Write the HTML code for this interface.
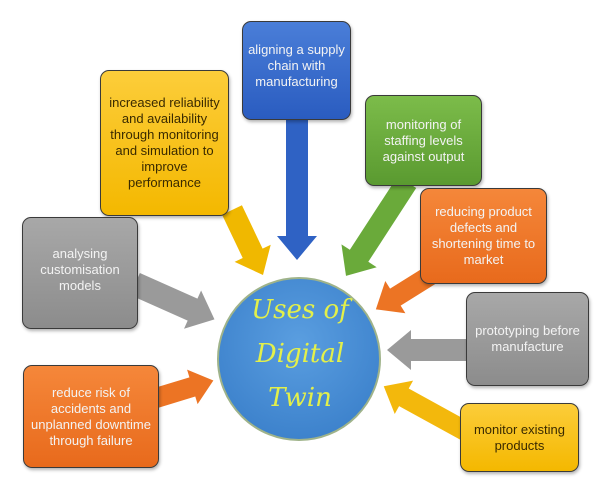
<!DOCTYPE html>
<html><head><style>
html,body{margin:0;padding:0;background:#fff;width:600px;height:500px;overflow:hidden}
.b{position:absolute;border:1.5px solid #3a3a3a;border-radius:9px;display:flex;align-items:center;justify-content:center;text-align:center;font-family:"Liberation Sans",sans-serif;font-size:13px;line-height:16px;box-sizing:border-box;padding:6px;box-shadow:1px 2px 3px rgba(0,0,0,.3);font-weight:500}
.w{color:#f3f3f3}.d{color:#3a2a00}
</style></head><body>
<svg width="600" height="500" style="position:absolute;left:0;top:0">
<defs>
<radialGradient id="cg" cx="50%" cy="40%" r="60%"><stop offset="0" stop-color="#5a9ee0"/><stop offset="1" stop-color="#3d82cc"/></radialGradient>
</defs>
<g transform="translate(232,210) rotate(64.5)"><polygon points="0,-11 48,-11 48,-20 72,0 48,20 48,11 0,11" fill="#f0b800"/></g>
<g transform="translate(297,118) rotate(90)"><polygon points="0,-11 118,-11 118,-20 142,0 118,20 118,11 0,11" fill="#2f62c4"/></g>
<g transform="translate(407,182) rotate(123)"><polygon points="0,-11 88,-11 88,-21 112,0 88,21 88,11 0,11" fill="#6aaa3a"/></g>
<g transform="translate(442,268) rotate(148)"><polygon points="0,-10 55,-10 55,-19 78,0 55,19 55,10 0,10" fill="#ec7424"/></g>
<g transform="translate(467,350) rotate(180)"><polygon points="0,-11 56,-11 56,-20 80,0 56,20 56,11 0,11" fill="#9a9a9a"/></g>
<g transform="translate(467,432) rotate(208.8)"><polygon points="0,-10 72,-10 72,-19 95,0 72,19 72,10 0,10" fill="#f3b80c"/></g>
<g transform="translate(135,284) rotate(24)"><polygon points="0,-12 63,-12 63,-21 87,0 63,21 63,12 0,12" fill="#9a9a9a"/></g>
<g transform="translate(156,398) rotate(-17)"><polygon points="0,-10 38,-10 38,-18 60,0 38,18 38,10 0,10" fill="#ec7424"/></g>
<circle cx="299" cy="359" r="81" fill="url(#cg)" stroke="#9fb38a" stroke-width="2"/>
<text font-family="'DejaVu Serif',serif" font-style="italic" font-size="26" fill="#e3f04a" text-anchor="middle"><tspan x="300" y="318">Uses of</tspan><tspan x="300" y="362">Digital</tspan><tspan x="300" y="406">Twin</tspan></text>
</svg>
<div class="b d" style="left:100px;top:70px;width:129px;height:146px;background:linear-gradient(#fccd3a,#f4b800);padding:4px"><span style="display:block;width:122px">increased reliability and availability through monitoring and simulation to<br>improve<br>performance</span></div>
<div class="b w" style="left:242px;top:21px;width:109px;height:99px;background:linear-gradient(#4a7ed8,#2a5cc0);align-items:flex-start;padding:20px 2px 2px">aligning a supply chain with manufacturing</div>
<div class="b w" style="left:365px;top:95px;width:117px;height:91px;background:linear-gradient(#7cbc4a,#5a9a30)">monitoring of staffing levels against output</div>
<div class="b w" style="left:420px;top:188px;width:127px;height:96px;background:linear-gradient(#f5873a,#e86a1c)">reducing product defects and shortening time to market</div>
<div class="b w" style="left:22px;top:217px;width:116px;height:112px;background:linear-gradient(#a8a8a8,#8c8c8c);align-items:flex-start;padding-top:28px">analysing customisation models</div>
<div class="b w" style="left:466px;top:292px;width:123px;height:94px;background:linear-gradient(#a8a8a8,#8c8c8c);padding:3px">prototyping before manufacture</div>
<div class="b w" style="left:23px;top:365px;width:136px;height:103px;background:linear-gradient(#f5873a,#e86a1c);padding:4px">reduce risk of accidents and unplanned downtime through failure</div>
<div class="b d" style="left:460px;top:403px;width:119px;height:69px;background:linear-gradient(#fccd3a,#f4b800)">monitor existing products</div>
</body></html>
